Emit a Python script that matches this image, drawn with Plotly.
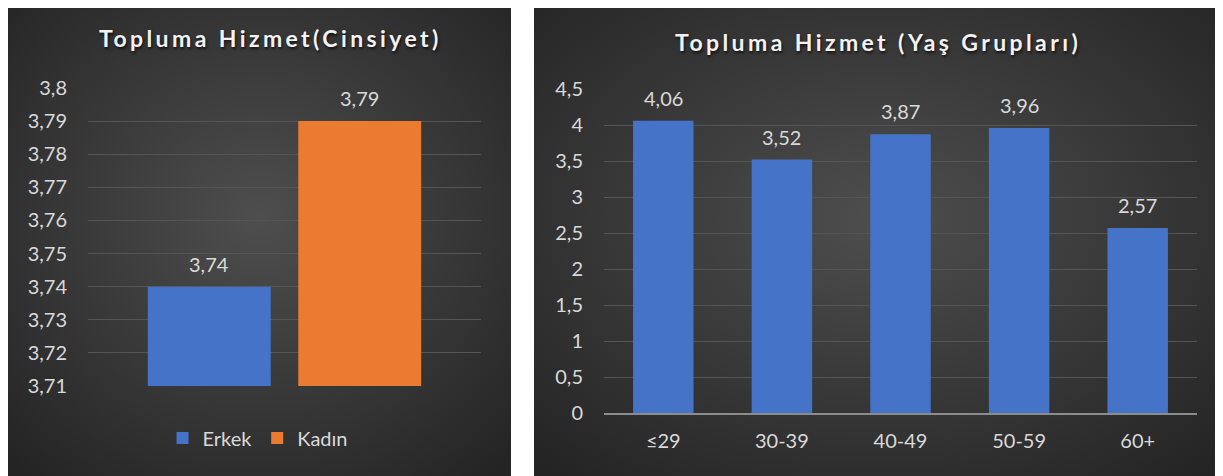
import base64
import plotly.graph_objects as go

# Topluma Hizmet - cinsiyet
genders = ["Erkek", "Kadın"]
gender_scores = [3.74, 3.79]
gender_colors = ["#4573C8", "#EC7B32"]

# Topluma Hizmet - yaş grupları
age_groups = ["≤29", "30-39", "40-49", "50-59", "60+"]
age_scores = [4.06, 3.52, 3.87, 3.96, 2.57]

# page body has an 8px margin, so the figure is a bit smaller than the window
OFF = 8
W, H = 1223 - OFF, 476 - OFF
FONT = "Lato"
TXT = "#d9d9d9"
GRID = "#555555"


def px(x):
    return max(0, (x - OFF) / W)


def py(y):
    return min(1, 1 - (y - OFF) / H)


def lbl(v):
    return f"{v:.2f}".replace(".", ",")


# dark radial background for each panel (excel style)
svg = ('<svg xmlns="http://www.w3.org/2000/svg" width="100" height="100" viewBox="0 0 100 100" '
       'preserveAspectRatio="none"><defs><radialGradient id="g" cx="50%" cy="45%" r="72%">'
       '<stop offset="0" stop-color="#4e4e4e"/><stop offset="1" stop-color="#242424"/>'
       '</radialGradient></defs><rect width="100" height="100" fill="url(#g)"/></svg>')
bg_src = "data:image/svg+xml;base64," + base64.b64encode(svg.encode()).decode()

fig = go.Figure()

for name, val, col in zip(genders, gender_scores, gender_colors):
    fig.add_trace(go.Bar(
        x=[name], y=[val], name=name, offsetgroup="g", width=0.817,
        marker=dict(color=col, line=dict(width=0)),
        xaxis="x", yaxis="y",
    ))

fig.add_trace(go.Bar(
    x=age_groups, y=age_scores, showlegend=False, width=0.51,
    marker=dict(color="#4573C8", line=dict(width=0)),
    xaxis="x2", yaxis="y2",
))

notes = []
for name, val in zip(genders, gender_scores):
    notes.append(dict(x=name, y=val, xref="x", yref="y", text=lbl(val), showarrow=False,
                      yanchor="middle", yshift=23, font=dict(family=FONT, size=20, color=TXT)))
for grp, val in zip(age_groups, age_scores):
    notes.append(dict(x=grp, y=val, xref="x2", yref="y2", text=lbl(val), showarrow=False,
                      yanchor="middle", yshift=23, font=dict(family=FONT, size=20, color=TXT)))

title_font = dict(family=FONT, size=23, color="#f2f2f2", weight="bold",
                  shadow="1px 2px 3px rgba(0,0,0,0.7)")
notes.append(dict(text='<span style="letter-spacing:3.4px">Topluma Hizmet(Cinsiyet)</span>',
                  xref="paper", yref="paper", x=px(270), y=py(38), xanchor="center",
                  yanchor="middle", showarrow=False, font=title_font))
notes.append(dict(text='<span style="letter-spacing:3.4px">Topluma Hizmet (Yaş Grupları)</span>',
                  xref="paper", yref="paper", x=px(878), y=py(42), xanchor="center",
                  yanchor="middle", showarrow=False, font=title_font))

fig.update_layout(
    width=W, height=H,
    margin=dict(l=0, r=0, t=0, b=0, autoexpand=False),
    paper_bgcolor="white", plot_bgcolor="rgba(0,0,0,0)",
    separators=",.",
    font=dict(family=FONT, size=20, color=TXT),
    barmode="group",
    images=[
        dict(source=bg_src, xref="paper", yref="paper", x=px(6), y=py(2),
             sizex=px(511), sizey=1, xanchor="left", yanchor="top",
             sizing="stretch", layer="below"),
        dict(source=bg_src, xref="paper", yref="paper", x=px(534), y=py(2),
             sizex=1 - px(534), sizey=1, xanchor="left", yanchor="top",
             sizing="stretch", layer="below"),
    ],
    xaxis=dict(domain=[px(88), px(481)], range=[-0.806, 1.806], showticklabels=False,
               showgrid=False, zeroline=False, showline=False, anchor="y", automargin=False),
    yaxis=dict(domain=[py(386), py(88)], range=[3.71, 3.8], tick0=3.71, dtick=0.01,
               gridcolor=GRID, gridwidth=1, zeroline=False, showline=False,
               ticklabelstandoff=20, tickfont=dict(family=FONT, size=20, color=TXT),
               anchor="x", automargin=False),
    xaxis2=dict(domain=[px(604), px(1197)], showgrid=False, zeroline=False,
                showline=True, linecolor="#8c8c8c", linewidth=2,
                ticklabelstandoff=9, tickfont=dict(family=FONT, size=20, color=TXT),
                anchor="y2", automargin=False),
    yaxis2=dict(domain=[py(413), py(89)], range=[0, 4.5], dtick=0.5,
                gridcolor=GRID, gridwidth=1, zeroline=False, showline=False,
                ticklabelstandoff=20, tickfont=dict(family=FONT, size=20, color=TXT),
                anchor="x2", automargin=False),
    legend=dict(orientation="h", x=px(258), xanchor="center", y=py(438), yanchor="middle",
                bgcolor="rgba(0,0,0,0)", font=dict(family=FONT, size=20, color=TXT),
                itemwidth=30),
    annotations=notes,
)

fig.write_html("out.html")
